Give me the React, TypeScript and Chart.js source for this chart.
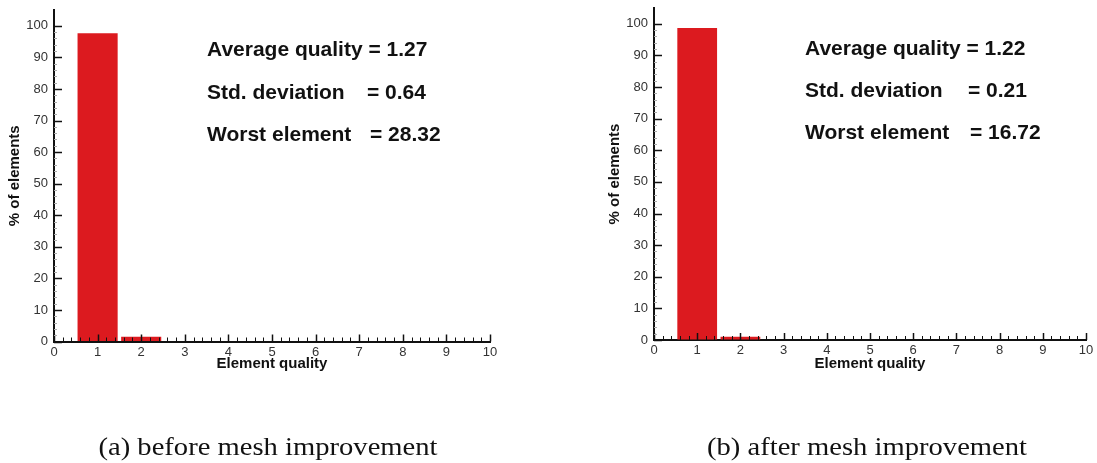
import React, { useEffect, useRef } from "react";
import { Chart, registerables } from "chart.js";

Chart.register(...registerables);

// ---- data ----
const bins = [1, 2, 3, 4, 5, 6, 7, 8, 9, 10];
const beforeValues = [97.6, 1.5, 0, 0, 0, 0, 0, 0, 0, 0];
const afterValues = [98.7, 1.0, 0, 0, 0, 0, 0, 0, 0, 0];
const xTickValues = [0, 1, 2, 3, 4, 5, 6, 7, 8, 9, 10];
const yTickValues = [0, 10, 20, 30, 40, 50, 60, 70, 80, 90, 100];
const beforeLabels = ["Average quality = 1.27", "Std. deviation", "Worst element"];
const beforeEquals = ["", "= 0.64", "= 28.32"];
const afterLabels = ["Average quality = 1.22", "Std. deviation", "Worst element"];
const afterEquals = ["", "= 0.21", "= 16.72"];
const captions = ["(a) before mesh improvement", "(b) after mesh improvement"];

const RED = "#dc1a1f";
const AXIS = "#111";
const FONT = "'Liberation Sans', Arial, Helvetica, sans-serif";

const inwardTicks = {
  id: "inwardTicks",
  afterDatasetsDraw(chart: any) {
    const { ctx, scales } = chart;
    const x = scales.x;
    const y = scales.y;
    const x0 = y.getPixelForValue(0);
    const left = x.getPixelForValue(0);
    ctx.save();
    ctx.strokeStyle = AXIS;
    // x ticks
    for (let i = 0; i <= 50; i++) {
      const px = Math.round(x.getPixelForValue(i / 5)) + 0.5;
      const major = i % 5 === 0;
      ctx.lineWidth = major ? 1.5 : 1;
      ctx.beginPath();
      ctx.moveTo(px, x0);
      ctx.lineTo(px, x0 - (major ? 7 : 4));
      ctx.stroke();
    }
    // y ticks
    for (let i = 0; i <= 50; i++) {
      const v = i * 2;
      const py = Math.round(y.getPixelForValue(v)) + 0.5;
      const major = v % 10 === 0;
      ctx.lineWidth = major ? 1.5 : 1;
      ctx.strokeStyle = major ? AXIS : "#aaa";
      ctx.beginPath();
      ctx.moveTo(left, py);
      ctx.lineTo(left + (major ? 8 : 3), py);
      ctx.stroke();
    }
    ctx.restore();
  },
};

const statsText = {
  id: "statsText",
  afterDraw(chart: any, _args: any, opts: any) {
    const { ctx } = chart;
    ctx.save();
    ctx.fillStyle = "#111";
    ctx.font = `bold 21px ${FONT}`;
    ctx.textBaseline = "alphabetic";
    ctx.textAlign = "left";
    opts.labels.forEach((t: string, i: number) => {
      ctx.fillText(t, opts.x, opts.baselines[i]);
      if (opts.equals[i]) ctx.fillText(opts.equals[i], opts.eqX[i], opts.baselines[i]);
    });
    ctx.restore();
  },
};

type Cfg = {
  values: number[];
  width: number;
  padLeft: number;
  padRight: number;
  padTop: number;
  padBottom: number;
  labels: string[];
  equals: string[];
  textX: number;
  eqX: number[];
  baselines: number[];
  titlePadY: number;
};

function Histogram(props: Cfg) {
  const ref = useRef<HTMLCanvasElement | null>(null);
  useEffect(() => {
    if (!ref.current) return;
    const chart = new Chart(ref.current, {
      type: "bar",
      data: {
        datasets: [
          {
            data: bins.map((b, i) => ({ x: b, y: props.values[i] })),
            backgroundColor: RED,
            borderWidth: 0,
            barPercentage: 0.92,
            categoryPercentage: 1,
          },
        ],
      },
      options: {
        responsive: false,
        animation: false,
        layout: {
          padding: {
            left: props.padLeft,
            right: props.padRight,
            top: props.padTop,
            bottom: props.padBottom,
          },
        },
        plugins: {
          legend: { display: false },
          tooltip: { enabled: false },
          statsText: {
            labels: props.labels,
            equals: props.equals,
            x: props.textX,
            eqX: props.eqX,
            baselines: props.baselines,
          },
        } as any,
        scales: {
          x: {
            type: "linear",
            min: 0,
            max: 10,
            offset: false,
            afterBuildTicks: (s: any) => {
              s.ticks = xTickValues.map((v) => ({ value: v }));
            },
            afterFit: (s: any) => {
              s.height = 40;
              s.paddingLeft = 0;
              s.paddingRight = 0;
            },
            ticks: {
              padding: 3,
              color: "#333",
              font: { family: FONT, size: 13 },
              maxRotation: 0,
              autoSkip: false,
            },
            grid: { drawOnChartArea: false, drawTicks: false },
            border: { color: AXIS, width: 2 },
            title: {
              display: true,
              text: "Element quality",
              color: "#111",
              font: { family: FONT, size: 15, weight: "bold" },
              padding: { top: 0, bottom: props.titlePadY },
            },
          },
          y: {
            type: "linear",
            min: 0,
            max: 105,
            afterBuildTicks: (s: any) => {
              s.ticks = yTickValues.map((v) => ({ value: v }));
            },
            afterFit: (s: any) => {
              s.width = 54;
              s.paddingTop = 0;
              s.paddingBottom = 0;
            },
            ticks: {
              padding: 6,
              color: "#333",
              font: { family: FONT, size: 13 },
              autoSkip: false,
            },
            grid: { drawOnChartArea: false, drawTicks: false },
            border: { color: AXIS, width: 2 },
            title: {
              display: true,
              text: "% of elements",
              color: "#111",
              font: { family: FONT, size: 15, weight: "bold" },
              padding: { top: 6, bottom: 0 },
            },
          },
        },
      },
      plugins: [inwardTicks, statsText],
    } as any);
    return () => chart.destroy();
  }, []);
  return <canvas ref={ref} width={props.width} height={463} style={{ display: "block" }} />;
}

export default function App() {
  const capStyle: React.CSSProperties = {
    position: "absolute",
    top: 432,
    width: 460,
    height: 30,
    lineHeight: "30px",
    textAlign: "center",
    fontFamily: "'Liberation Serif', 'Times New Roman', serif",
    fontSize: 26,
    color: "#111",
    transform: "scaleX(1.1)",
    transformOrigin: "center",
    whiteSpace: "nowrap",
  };
  return (
    <div style={{ position: "absolute", left: 0, top: 0, width: 1097, height: 463, background: "#fff", overflow: "hidden" }}>
      <div style={{ position: "absolute", left: 0, top: 0 }}>
        <Histogram
          values={beforeValues}
          width={548}
          padLeft={0}
          padRight={58}
          padTop={10}
          padBottom={81.5}
          labels={beforeLabels}
          equals={beforeEquals}
          textX={207}
          eqX={[0, 367, 370]}
          baselines={[56, 99, 141]}
          titlePadY={8.5}
        />
      </div>
      <div style={{ position: "absolute", left: 548, top: 0 }}>
        <Histogram
          values={afterValues}
          width={549}
          padLeft={52}
          padRight={11}
          padTop={8}
          padBottom={83}
          labels={afterLabels}
          equals={afterEquals}
          textX={257}
          eqX={[0, 420, 422]}
          baselines={[55, 97, 139]}
          titlePadY={7}
        />
      </div>
      <div style={{ ...capStyle, left: 268 - 230 }}>{captions[0]}</div>
      <div style={{ ...capStyle, left: 867 - 230 }}>{captions[1]}</div>
    </div>
  );
}
